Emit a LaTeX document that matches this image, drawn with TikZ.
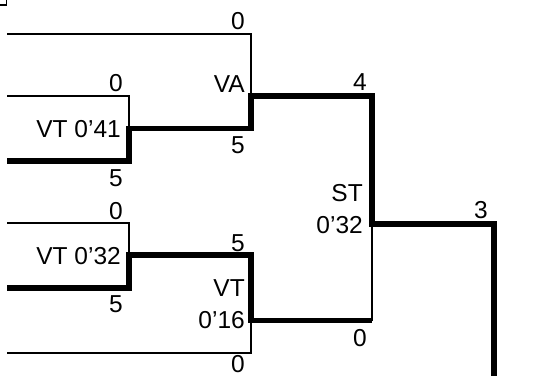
\documentclass[tikz,border=0pt]{standalone}
\usepackage{fontspec}
\setmainfont{Liberation Sans}
\begin{document}
\begin{tikzpicture}[x=1pt,y=-1pt,
  thinline/.style={line width=1.8pt,line join=miter},
  thickline/.style={line width=5.4pt,line join=miter},
  lbl/.style={anchor=east,inner sep=0pt,font=\fontsize{24.5}{32}\selectfont,align=right}]
\useasboundingbox (0,0) rectangle (542,376);
% coordinates
\coordinate (k0) at (0,5);
\coordinate (k1) at (6.5,5);
\coordinate (k2) at (6.5,0);
\coordinate (t0) at (7,34);
\coordinate (t1) at (251,34);
\coordinate (va) at (251,96);
\coordinate (u0) at (7,96);
\coordinate (u1) at (129,96);
\coordinate (m1) at (129,128.7);
\coordinate (m2) at (251,128.7);
\coordinate (b0) at (7,161);
\coordinate (b1) at (129,161);
\coordinate (st1) at (372,96);
\coordinate (st) at (372,224);
\coordinate (f1) at (494,224);
\coordinate (f2) at (494,376);
\coordinate (c0) at (7,223);
\coordinate (c1) at (129,223);
\coordinate (p1) at (129,255);
\coordinate (p2) at (251,255);
\coordinate (d0) at (7,288);
\coordinate (d1) at (129,288);
\coordinate (q1) at (251,320.5);
\coordinate (q2) at (372,320.5);
\coordinate (e0) at (7,353);
\coordinate (e1) at (251,353);
% thin lines
\draw[thinline] (k0) -- (k1) -- (k2);
\draw[thinline] (t0) -- (t1) -- (va);
\draw[thinline] (u0) -- (u1) -- (m1);
\draw[thinline] (c0) -- (c1) -- (p1);
\draw[thinline] (e0) -- (e1) -- (q1);
\draw[thinline] (q2) -- (st);
% thick lines
\draw[thickline] (b0) -- (b1) -- (m1) -- (m2) -- (va) -- (st1) -- (st) -- (f1) -- (f2);
\draw[thickline] (d0) -- (d1) -- (p1) -- (p2) -- (q1) -- (q2);
% labels
\node[lbl] (n0a) at (245,21) {0};
\node[lbl] (nva) at (245,84) {VA};
\node[lbl] (n0b) at (123,83) {0};
\node[lbl] (nvt41) at (121,129) {VT 0'41};
\node[lbl] (n5a) at (245,145) {5};
\node[lbl] (n5b) at (123,178) {5};
\node[lbl] (n0c) at (123,211) {0};
\node[lbl] (nvt32) at (121,256) {VT 0'32};
\node[lbl] (n5c) at (245,243) {5};
\node[lbl] (nvt16) at (245,304.5) {VT\\0'16};
\node[lbl] (n5d) at (123,304) {5};
\node[lbl] (n0d) at (245,364) {0};
\node[lbl] (n4) at (367,82) {4};
\node[lbl] (nst) at (363,209) {ST\\0'32};
\node[lbl] (n0e) at (367,338) {0};
\node[lbl] (n3) at (488,210) {3};
\end{tikzpicture}
\end{document}
